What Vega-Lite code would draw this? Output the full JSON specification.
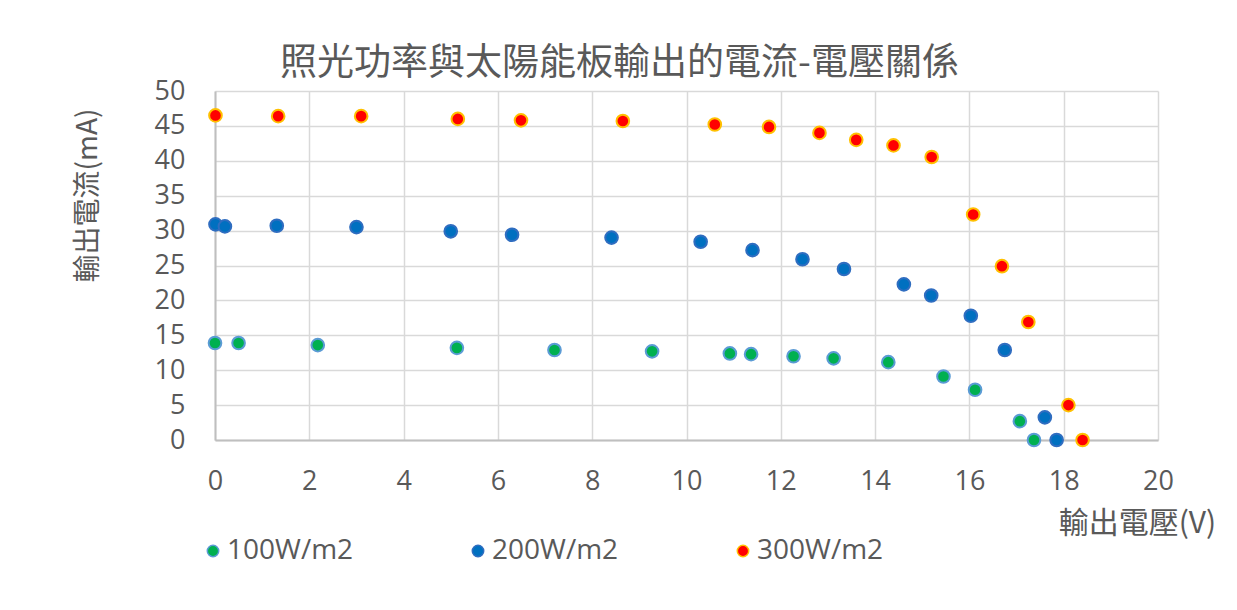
{
  "$schema": "https://vega.github.io/schema/vega-lite/v6.json",
  "autosize": {"type": "none"},
  "width": 943,
  "height": 349,
  "padding": {"left": 215, "top": 91, "right": 79, "bottom": 170},
  "background": "white",
  "title": {
    "text": "照光功率與太陽能板輸出的電流-電壓關係",
    "font": "Noto Sans CJK TC",
    "fontSize": 37,
    "fontWeight": "normal",
    "color": "#595959",
    "anchor": "middle",
    "dx": -67,
    "offset": -6
  },
  "data": {
    "values": [
      {"series": "100W/m2", "V": 0.0, "I": 13.9},
      {"series": "100W/m2", "V": 0.5, "I": 13.9},
      {"series": "100W/m2", "V": 2.18, "I": 13.6},
      {"series": "100W/m2", "V": 5.13, "I": 13.2},
      {"series": "100W/m2", "V": 7.2, "I": 12.9},
      {"series": "100W/m2", "V": 9.27, "I": 12.7},
      {"series": "100W/m2", "V": 10.92, "I": 12.4},
      {"series": "100W/m2", "V": 11.37, "I": 12.3},
      {"series": "100W/m2", "V": 12.27, "I": 12.0},
      {"series": "100W/m2", "V": 13.12, "I": 11.7},
      {"series": "100W/m2", "V": 14.28, "I": 11.15},
      {"series": "100W/m2", "V": 15.45, "I": 9.1},
      {"series": "100W/m2", "V": 16.12, "I": 7.2},
      {"series": "100W/m2", "V": 17.07, "I": 2.7},
      {"series": "100W/m2", "V": 17.37, "I": 0.0},
      {"series": "200W/m2", "V": 0.01, "I": 30.9},
      {"series": "200W/m2", "V": 0.21, "I": 30.6},
      {"series": "200W/m2", "V": 1.31, "I": 30.7},
      {"series": "200W/m2", "V": 3.0, "I": 30.5},
      {"series": "200W/m2", "V": 5.0, "I": 29.9},
      {"series": "200W/m2", "V": 6.3, "I": 29.4},
      {"series": "200W/m2", "V": 8.41, "I": 29.0},
      {"series": "200W/m2", "V": 10.3, "I": 28.4},
      {"series": "200W/m2", "V": 11.4, "I": 27.2},
      {"series": "200W/m2", "V": 12.46, "I": 25.9},
      {"series": "200W/m2", "V": 13.34, "I": 24.5},
      {"series": "200W/m2", "V": 14.61, "I": 22.3},
      {"series": "200W/m2", "V": 15.19, "I": 20.7},
      {"series": "200W/m2", "V": 16.03, "I": 17.8},
      {"series": "200W/m2", "V": 16.75, "I": 12.9},
      {"series": "200W/m2", "V": 17.6, "I": 3.25},
      {"series": "200W/m2", "V": 17.85, "I": 0.0},
      {"series": "300W/m2", "V": 0.01, "I": 46.5},
      {"series": "300W/m2", "V": 1.34, "I": 46.4},
      {"series": "300W/m2", "V": 3.1, "I": 46.4},
      {"series": "300W/m2", "V": 5.15, "I": 46.0},
      {"series": "300W/m2", "V": 6.49, "I": 45.8},
      {"series": "300W/m2", "V": 8.65, "I": 45.7},
      {"series": "300W/m2", "V": 10.6, "I": 45.2},
      {"series": "300W/m2", "V": 11.75, "I": 44.85},
      {"series": "300W/m2", "V": 12.82, "I": 44.0},
      {"series": "300W/m2", "V": 13.6, "I": 43.0},
      {"series": "300W/m2", "V": 14.39, "I": 42.2},
      {"series": "300W/m2", "V": 15.2, "I": 40.55},
      {"series": "300W/m2", "V": 16.08, "I": 32.3},
      {"series": "300W/m2", "V": 16.69, "I": 24.9},
      {"series": "300W/m2", "V": 17.25, "I": 16.9},
      {"series": "300W/m2", "V": 18.1, "I": 5.0},
      {"series": "300W/m2", "V": 18.4, "I": 0.0}
    ]
  },
  "mark": {"type": "point", "filled": true, "size": 160, "strokeWidth": 2, "opacity": 1},
  "encoding": {
    "x": {
      "field": "V",
      "type": "quantitative",
      "scale": {"domain": [0, 20], "nice": false, "zero": false},
      "axis": {
        "values": [0, 2, 4, 6, 8, 10, 12, 14, 16, 18, 20],
        "labelFlush": false,
        "title": "輸出電壓(V)",
        "titleFont": "Noto Sans CJK TC",
        "titleFontSize": 30,
        "titleFontWeight": "normal",
        "titleColor": "#595959",
        "titleX": 922,
        "titleY": 83,
        "titleAlign": "center",
        "titleBaseline": "middle",
        "labelPadding": 28
      }
    },
    "y": {
      "field": "I",
      "type": "quantitative",
      "scale": {"domain": [0, 50], "nice": false},
      "axis": {
        "values": [0, 5, 10, 15, 20, 25, 30, 35, 40, 45, 50],
        "labelFlush": false,
        "title": "輸出電流(mA)",
        "titleFont": "Noto Sans CJK TC",
        "titleFontSize": 28,
        "titleFontWeight": "normal",
        "titleColor": "#595959",
        "titleAngle": -90,
        "titleX": -127,
        "titleY": 104,
        "titleAlign": "center",
        "titleBaseline": "middle",
        "labelPadding": 30
      }
    },
    "color": {
      "field": "series",
      "type": "nominal",
      "scale": {
        "domain": ["100W/m2", "200W/m2", "300W/m2"],
        "range": ["#00B050", "#0070C0", "#FF0000"]
      },
      "legend": {
        "title": null,
        "orient": "none",
        "direction": "horizontal",
        "legendX": -16,
        "legendY": 446,
        "gridAlign": "all",
        "columnPadding": 110,
        "symbolSize": 130,
        "symbolStrokeWidth": 1.5,
        "labelFont": "Open Sans",
        "labelFontSize": 28,
        "labelColor": "#595959",
        "labelOffset": 0,
        "labelLimit": 300
      }
    },
    "stroke": {
      "field": "series",
      "type": "nominal",
      "scale": {
        "domain": ["100W/m2", "200W/m2", "300W/m2"],
        "range": ["#5B9BD5", "#2F6DC0", "#FFC000"]
      },
      "legend": null
    }
  },
  "config": {
    "view": {"stroke": null},
    "axis": {
      "grid": true,
      "gridColor": "#D9D9D9",
      "gridWidth": 1.5,
      "domainColor": "#BFBFBF",
      "domainWidth": 2,
      "ticks": false,
      "labelFont": "Open Sans",
      "labelFontSize": 27,
      "labelColor": "#595959"
    }
  }
}
